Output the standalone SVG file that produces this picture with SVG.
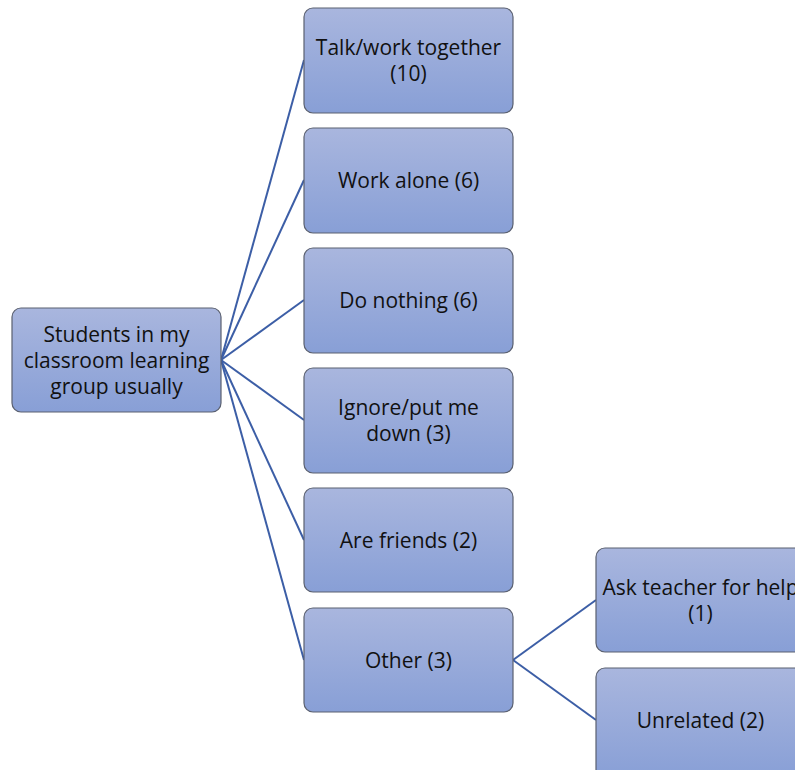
<svg xmlns="http://www.w3.org/2000/svg" width="795" height="770" viewBox="0 0 795 770">
  <defs>
    <linearGradient id="boxFill" x1="0" y1="0" x2="0" y2="1">
      <stop offset="0" stop-color="#a9b6de"/>
      <stop offset="1" stop-color="#889fd6"/>
    </linearGradient>
    <style>
      .box { fill: url(#boxFill); stroke: #5a6070; stroke-width: 1.2; }
      .lbl { font-family: "Open Sans", "Liberation Sans", sans-serif; font-size: 21px; fill: #111; text-anchor: middle; }
      .link { stroke: #3c5ea6; stroke-width: 2; fill: none; }
    </style>
  </defs>
  <rect width="795" height="770" fill="#ffffff"/>

  <g id="connectors">
    <line class="link" x1="221" y1="360" x2="304" y2="60"/>
    <line class="link" x1="221" y1="360" x2="304" y2="180"/>
    <line class="link" x1="221" y1="360" x2="304" y2="300"/>
    <line class="link" x1="221" y1="360" x2="304" y2="420"/>
    <line class="link" x1="221" y1="360" x2="304" y2="540"/>
    <line class="link" x1="221" y1="360" x2="304" y2="660"/>
    <line class="link" x1="513" y1="660" x2="596" y2="600"/>
    <line class="link" x1="513" y1="660" x2="596" y2="720"/>
  </g>

  <g id="root">
    <rect class="box" x="12" y="308" width="209" height="104" rx="9"/>
    <text class="lbl" x="116.5" y="342">Students in my</text>
    <text class="lbl" x="116.5" y="368">classroom learning</text>
    <text class="lbl" x="116.5" y="394">group usually</text>
  </g>

  <g id="talk-work">
    <rect class="box" x="304" y="8" width="209" height="105" rx="9"/>
    <text class="lbl" x="408.5" y="55">Talk/work together</text>
    <text class="lbl" x="408.5" y="81">(10)</text>
  </g>

  <g id="work-alone">
    <rect class="box" x="304" y="128" width="209" height="105" rx="9"/>
    <text class="lbl" x="408.5" y="188">Work alone (6)</text>
  </g>

  <g id="do-nothing">
    <rect class="box" x="304" y="248" width="209" height="105" rx="9"/>
    <text class="lbl" x="408.5" y="308">Do nothing (6)</text>
  </g>

  <g id="ignore">
    <rect class="box" x="304" y="368" width="209" height="105" rx="9"/>
    <text class="lbl" x="408.5" y="415">Ignore/put me</text>
    <text class="lbl" x="408.5" y="441">down (3)</text>
  </g>

  <g id="friends">
    <rect class="box" x="304" y="488" width="209" height="104" rx="9"/>
    <text class="lbl" x="408.5" y="548">Are friends (2)</text>
  </g>

  <g id="other">
    <rect class="box" x="304" y="608" width="209" height="104" rx="9"/>
    <text class="lbl" x="408.5" y="668">Other (3)</text>
  </g>

  <g id="ask-teacher">
    <rect class="box" x="596" y="548" width="209" height="104" rx="9"/>
    <text class="lbl" x="700.5" y="595">Ask teacher for help</text>
    <text class="lbl" x="700.5" y="621">(1)</text>
  </g>

  <g id="unrelated">
    <rect class="box" x="596" y="668" width="209" height="110" rx="9"/>
    <text class="lbl" x="700.5" y="728">Unrelated (2)</text>
  </g>
</svg>
